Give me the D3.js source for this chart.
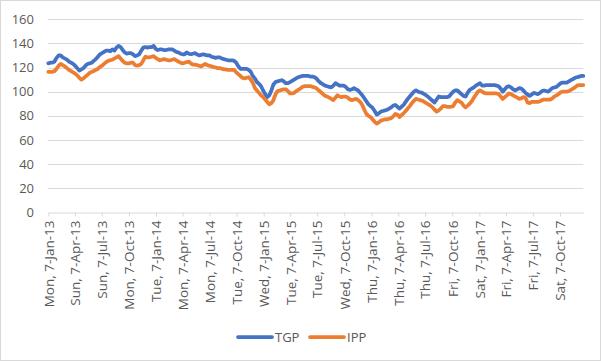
<!DOCTYPE html>
<html><head><meta charset="utf-8">
<script src="https://cdn.jsdelivr.net/npm/d3@7"></script>
<style>body{margin:0;background:#fff}svg{display:block}</style>
</head><body><svg id="c" width="601" height="361"></svg>
<script>
const seriesNames = ["TGP", "IPP"];
const startDate = "2013-01-07";
const tgp = [
123.5,124,124,125,128,130,130,128.5,127.5,126.5,
125,124,123,121.5,119.5,117.5,118.5,119.5,121.5,123,
123.5,124,125.5,127,129,131,132,133,134,134,
133.5,135,134,136.5,138,137,134.5,132.5,131.5,132,
132,131,129.5,130,131,134,136.5,137,136.5,137,
137,138,135.5,134.5,135,135,134.5,134.5,135,135,
135,134,133,132.5,131.5,131,131,132.5,131.5,131,
131.5,132,131,130,130.5,131,130.5,130,130,129,
128.5,128,128.5,128.5,127.5,127,126.5,126,126,126,
125.5,124,121,119,119,119,119,118,116.5,113,
111,108,106.5,104.5,101,98,95.5,97,101,106,
108,108.5,109,109.5,108.5,107,107,108,109,110,
111,112,112.5,113,113,113,113,112.5,112.5,112,
110.5,108.5,107,106,105,104.5,104,103.5,105,107,
106,105,105,105,104,102,101.5,102,103,102,
101,99,97,94.5,92,89.5,88,86.5,84,81,
82,83.5,84,84.5,85,86,87,88.5,89,87.5,
86,87.5,89,91.5,94,96,98,100,101,100,
99.5,99,98,97,95.5,94,92.5,91,93.5,96,
95.5,95.5,95.5,95.5,96,98,100,101,101,99.5,
98,96.5,96,99,101.5,102.5,103.5,105,106,107,
105,105,105.5,105.5,105.5,105.5,105.5,105,104.5,102.5,
100,102,104,104.5,103.5,102,101,102,103,102.5,
101,99,97.5,96.5,97.5,99,98.5,98,99,100.5,
101,100.5,100,101.5,103,103.5,104,105.5,107,107.5,
107.5,107.5,108.5,109.5,110.5,111.5,112,112.5,113,113
];
const ipp = [
116.5,116.5,116.5,117,119,121.5,123,122,121,119.5,
118,117,116,115,113.5,111.5,110,111,112.5,114,
115.5,116.5,117,118,119,120.5,121.5,123,124.5,125.5,
126,126.5,127.5,128.5,129.5,127.5,125.5,124,123.5,123.5,
124,124,122,121.5,122,123,126,129,128.5,128.5,
129,129.5,128,127,126,126.5,127,126.5,126,126,
126.5,127,126,125,124,123.5,124,124.5,125,123.5,
122.5,122.5,122,121.5,121,122,123,122,121.5,121,
120.5,120,119.5,119.5,119,118.5,118.5,118,118,118,
118,116,114.5,113,111.5,111,111.5,112,110,107.5,
103,101,99,97,95.5,93.5,91.5,89.5,90.5,93,
98,100.5,101,101.5,102,102,100.5,98.5,98.5,99,
100.5,101.5,102.5,104,104.5,104.5,104.5,104.5,104,103.5,
102.5,101,99.5,98,96.5,96,95,94,93,95,
97,96,95.5,96,96,95,93.5,93,93.5,94,
93,91.5,89,85,81.5,80,79,77,75,73.5,
74.5,76,76.5,77,77,77.5,78,79.5,81.5,81,
79,80.5,82,84,86,88,90.5,92.5,94,93.5,
93,92.5,91.5,90.5,89.5,88.5,87,85,83.5,84.5,
86,88,88,87.5,87.5,87.5,88,91,93,92,
91,88.5,87,88.5,90,92,95,97.5,100,101,
100,99,98.5,98.5,98.5,98.5,98.5,98.5,98,96,
94,95.5,97,98.5,98,97,96,95,94,94.5,
95.5,95,91,90.5,91.5,91.5,91.5,91.5,92,93,
93.5,93.5,93.5,93.5,94.5,96,97,98,99.5,100,
100,100,100.5,101.5,102.5,103.5,105,105.5,105.5,105.5
];
const yTicks = [0, 20, 40, 60, 80, 100, 120, 140, 160];
const xTickDates = ["2013-01-07","2013-04-07","2013-07-07","2013-10-07","2014-01-07","2014-04-07","2014-07-07","2014-10-07","2015-01-07","2015-04-07","2015-07-07","2015-10-07","2016-01-07","2016-04-07","2016-07-07","2016-10-07","2017-01-07","2017-04-07","2017-07-07","2017-10-07"];
const colors = ["#4472C4", "#ED7D31"];

const parse = d3.timeParse("%Y-%m-%d");
const fmt = d3.timeFormat("%a, %-d-%b-%y");
const t0 = parse(startDate);
const dates = tgp.map((_, i) => d3.timeDay.offset(t0, 7 * i));

const svg = d3.select("#c");
const font = "'Open Sans', sans-serif";
svg.append("rect").attr("x", 0.5).attr("y", 0.5).attr("width", 600).attr("height", 360)
  .attr("fill", "#fff").attr("stroke", "#D9D9D9");

const x = d3.scaleTime().domain([t0, dates[dates.length - 1]]).range([48.3, 583.3]);
const y = d3.scaleLinear().domain([0, 160]).range([212.3, 19.3]);

// gridlines
svg.append("g").selectAll("line").data(yTicks.filter(v => v > 0)).join("line")
  .attr("x1", 48.3).attr("x2", 583.3)
  .attr("y1", d => Math.round(y(d)) + 0.5).attr("y2", d => Math.round(y(d)) + 0.5)
  .attr("stroke", "#D9D9D9").attr("stroke-width", 1);

// y axis labels
const ya = svg.append("g").attr("transform", "translate(48,0)")
  .call(d3.axisLeft(y).tickValues(yTicks).tickSize(0).tickPadding(14));
ya.select(".domain").remove();
ya.selectAll("text").attr("font-family", font).attr("font-size", 13).attr("fill", "#595959");

// x axis
const xa = svg.append("g").attr("transform", `translate(0,${Math.round(y(0)) + 0.5})`)
  .call(d3.axisBottom(x).tickValues(xTickDates.map(parse)).tickFormat(fmt).tickSize(4).tickSizeOuter(0));
xa.select(".domain").attr("stroke", "#D9D9D9");
xa.selectAll(".tick line").attr("stroke", "#D9D9D9");
xa.selectAll("text").attr("font-family", font).attr("font-size", 13.5).attr("fill", "#595959")
  .attr("text-anchor", "end").attr("transform", "rotate(-90)")
  .attr("x", -8).attr("y", 0).attr("dy", "0.35em");

// lines
const line = d3.line().x((d, i) => x(dates[i])).y(d => y(d));
[tgp, ipp].forEach((s, k) => {
  svg.append("path").datum(s).attr("d", line).attr("fill", "none")
    .attr("stroke", colors[k]).attr("stroke-width", 3.75)
    .attr("stroke-linejoin", "round").attr("stroke-linecap", "round");
});

// legend
const legX = [238, 310];
seriesNames.forEach((n, k) => {
  const g = svg.append("g").attr("transform", `translate(${legX[k]},337)`);
  g.append("line").attr("x1", 0).attr("x2", 34).attr("y1", 0).attr("y2", 0)
    .attr("stroke", colors[k]).attr("stroke-width", 3.75).attr("stroke-linecap", "round");
  g.append("text").attr("x", 37).attr("y", 0).attr("dy", "0.35em").text(n)
    .attr("font-family", font).attr("font-size", 13).attr("fill", "#595959");
});
</script></body></html>
